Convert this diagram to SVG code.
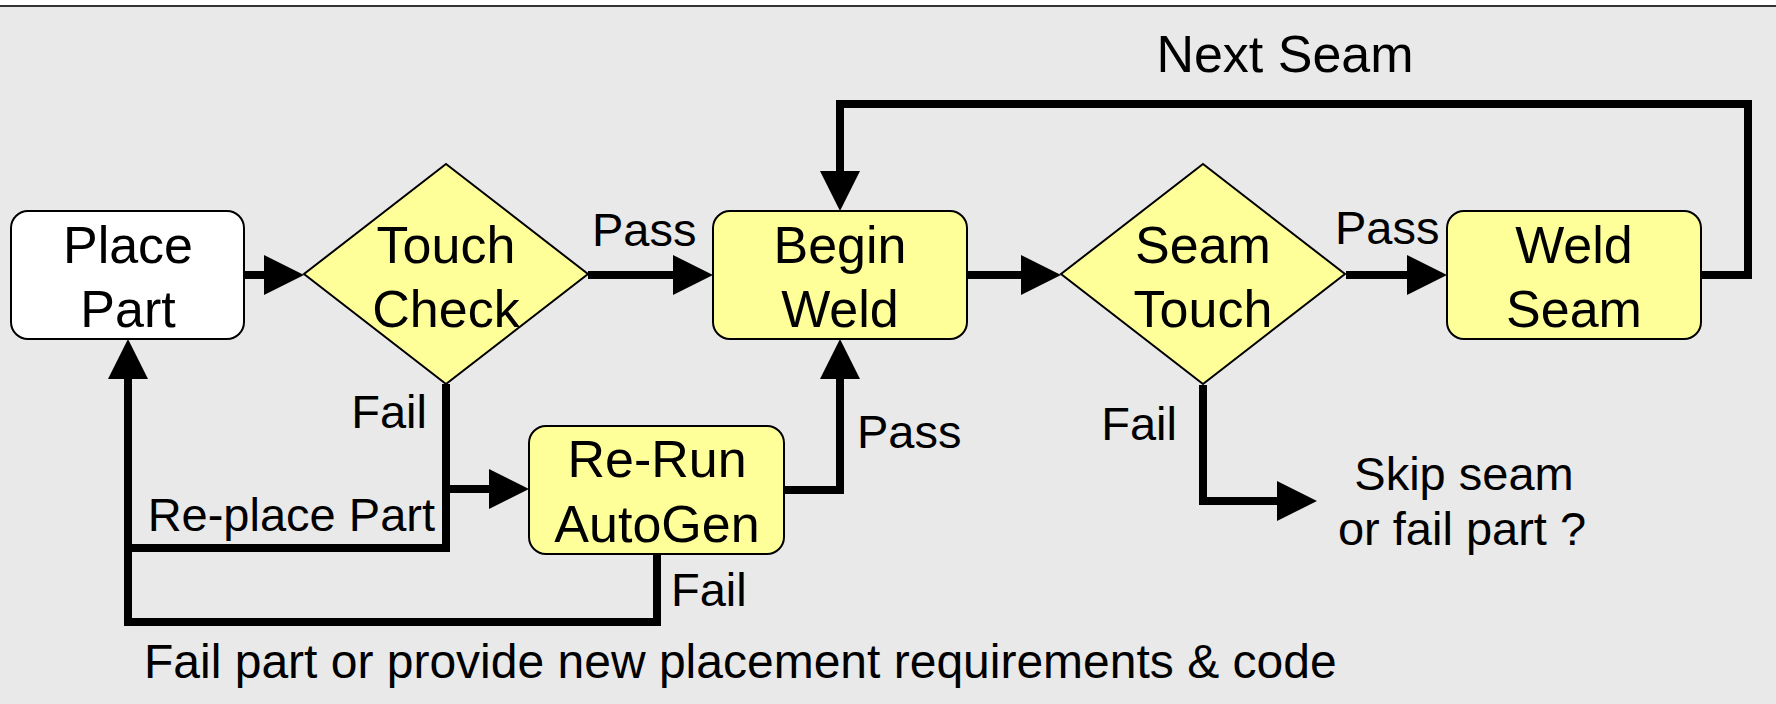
<svg xmlns="http://www.w3.org/2000/svg" width="1776" height="704" viewBox="0 0 1776 704">
<defs>
<style>
.bg{fill:#e9e9e9}
.box{fill:#ffff99;stroke:#000;stroke-width:2}
.wbox{fill:#ffffff;stroke:#000;stroke-width:2}
.t{font-family:"Liberation Sans",Arial,sans-serif;font-size:52px;fill:#000;text-anchor:middle}
.l{font-family:"Liberation Sans",Arial,sans-serif;font-size:47px;fill:#000}
.c{fill:none;stroke:#000;stroke-width:8;stroke-linejoin:miter;stroke-linecap:butt}
.ca{marker-end:url(#ah)}
</style>
<marker id="ah" markerUnits="userSpaceOnUse" markerWidth="40" markerHeight="40" refX="0" refY="20" orient="auto" overflow="visible">
<path d="M0,0 L40,20 L0,40 Z" fill="#000"/>
</marker>
</defs>
<rect x="0" y="0" width="1776" height="704" fill="#ffffff"/>
<rect class="bg" x="0" y="6" width="1776" height="698"/>
<line x1="0" y1="6" x2="1776" y2="6" stroke="#333" stroke-width="2"/>

<g id="connectors">
<path class="c ca" d="M244,275 H264"/>
<path class="c ca" d="M588,275 H673"/>
<path class="c ca" d="M966,275 H1021"/>
<path class="c ca" d="M1346,275 H1407"/>
<path class="c ca" d="M1701,275 H1748 V104 H840 V171"/>
<path class="c" d="M446,384 V548 H124"/>
<path class="c ca" d="M446,489 H489"/>
<path class="c ca" d="M657,554 V622 H128 V379"/>
<path class="c ca" d="M784,490 H840 V379"/>
<path class="c ca" d="M1203,385 V501 H1277"/>
</g>

<g id="place-part">
<rect class="wbox" x="11" y="211" width="233" height="128" rx="17"/>
<text class="t" x="128" y="263">Place</text>
<text class="t" x="128" y="327">Part</text>
</g>
<g id="touch-check">
<polygon class="box" points="446,164 588,274 446,384 304,274"/>
<text class="t" x="446" y="263">Touch</text>
<text class="t" x="446" y="327">Check</text>
</g>
<g id="begin-weld">
<rect class="box" x="713" y="211" width="254" height="128" rx="17"/>
<text class="t" x="840" y="263">Begin</text>
<text class="t" x="840" y="327">Weld</text>
</g>
<g id="seam-touch">
<polygon class="box" points="1203,164 1345,274 1203,384 1061,274"/>
<text class="t" x="1203" y="263">Seam</text>
<text class="t" x="1203" y="327">Touch</text>
</g>
<g id="weld-seam">
<rect class="box" x="1447" y="211" width="254" height="128" rx="17"/>
<text class="t" x="1574" y="263">Weld</text>
<text class="t" x="1574" y="327">Seam</text>
</g>
<g id="rerun-autogen">
<rect class="box" x="529" y="426" width="255" height="128" rx="17"/>
<text class="t" x="657" y="477">Re-Run</text>
<text class="t" x="657" y="542">AutoGen</text>
</g>

<g id="labels">
<text class="l" x="592" y="246">Pass</text>
<text class="l" x="1335" y="244">Pass</text>
<text class="l" x="1285" y="72" style="font-size:52px" text-anchor="middle">Next Seam</text>
<text class="l" x="427" y="428" text-anchor="end">Fail</text>
<text class="l" x="435" y="531" text-anchor="end">Re-place Part</text>
<text class="l" x="857" y="448">Pass</text>
<text class="l" x="671" y="606">Fail</text>
<text class="l" x="1177" y="440" text-anchor="end">Fail</text>
<text class="l" x="1464" y="490" text-anchor="middle">Skip seam</text>
<text class="l" x="1462" y="545" text-anchor="middle">or fail part ?</text>
<text class="l" x="144" y="678" style="font-size:48px">Fail part or provide new placement requirements &amp; code</text>
</g>
</svg>
